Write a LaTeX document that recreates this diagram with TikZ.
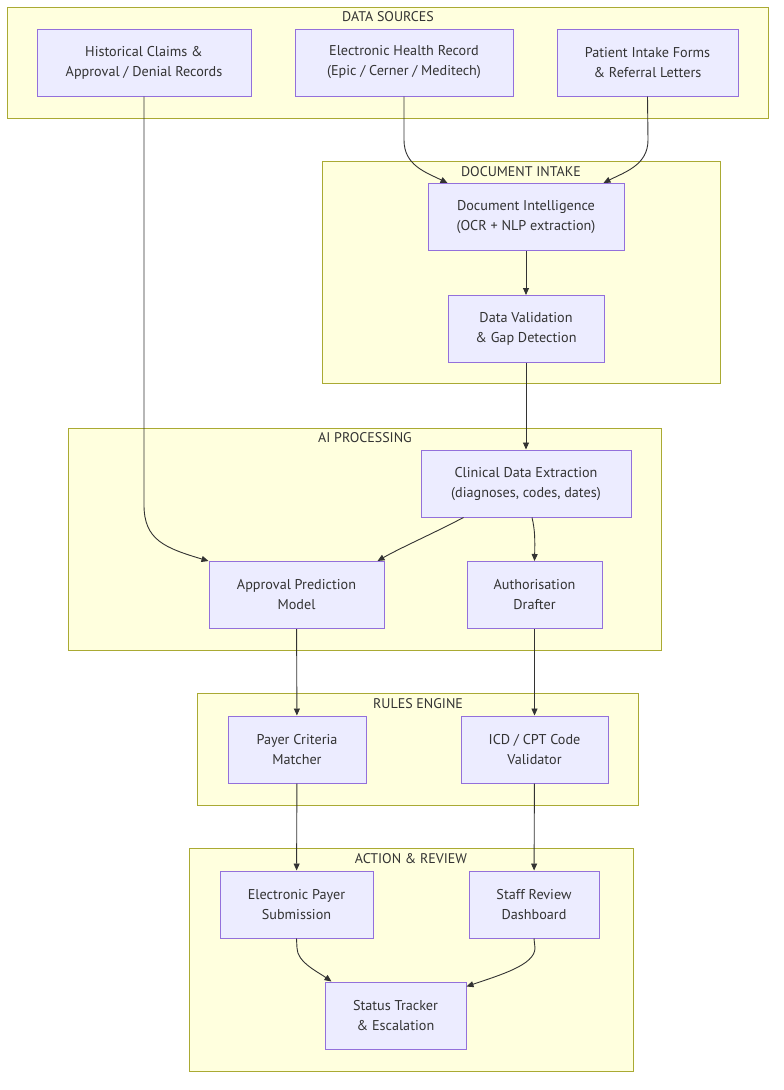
\documentclass[tikz,border=0pt]{standalone}
\usepackage{fontspec}
\setmainfont{PT Sans}
\usetikzlibrary{arrows.meta}
\definecolor{clfill}{HTML}{FFFFDE}
\definecolor{clline}{HTML}{AAAA33}
\definecolor{ndfill}{HTML}{ECECFF}
\definecolor{ndline}{HTML}{9370DB}
\definecolor{txt}{HTML}{333333}
\definecolor{edge}{HTML}{333333}
\tikzset{
  cluster/.style={draw=clline, fill=clfill, line width=1pt},
  ctitle/.style={anchor=north, inner sep=0pt, text=txt, font=\fontsize{14}{16}\selectfont},
  box/.style={draw=ndline, fill=ndfill, line width=1pt, minimum height=67pt, align=center, text=txt, inner sep=0pt, font=\fontsize{14.2}{20}\selectfont},
  conn/.style={draw=edge, line width=0.9pt, -{Triangle[length=7pt,width=6pt]}},
}
\begin{document}
\begin{tikzpicture}[x=1pt,y=-1pt]
\useasboundingbox (0,0) rectangle (784,1090);
% clusters
\draw[cluster] (7,7) rectangle (768,118);
\node[ctitle] (tds) at (388,11) {DATA SOURCES};
\draw[cluster] (322,161) rectangle (720,383);
\node[ctitle] (tdi) at (521,166) {DOCUMENT INTAKE};
\draw[cluster] (68,428) rectangle (661,650);
\node[ctitle] (tai) at (365,432) {AI PROCESSING};
\draw[cluster] (197,693) rectangle (638,805);
\node[ctitle] (tre) at (418,698) {RULES ENGINE};
\draw[cluster] (189,848) rectangle (633,1071);
\node[ctitle] (tar) at (411,853) {ACTION \& REVIEW};
% nodes
\node[box, minimum width=214pt] (hist) at (144,62.5) {Historical Claims \&\\Approval / Denial Records};
\node[box, minimum width=218pt] (ehr) at (404,62.5) {Electronic Health Record\\(Epic / Cerner / Meditech)};
\node[box, minimum width=181pt] (pat) at (647.5,62.5) {Patient Intake Forms\\\& Referral Letters};
\node[box, minimum width=196pt] (di) at (526,217) {Document Intelligence\\(OCR + NLP extraction)};
\node[box, minimum width=156pt] (dv) at (526,329) {Data Validation\\\& Gap Detection};
\node[box, minimum width=210pt] (cl) at (526,483.5) {Clinical Data Extraction\\(diagnoses, codes, dates)};
\node[box, minimum width=175pt] (app) at (296.5,595) {Approval Prediction\\Model};
\node[box, minimum width=135pt] (auth) at (534.5,595) {Authorisation\\Drafter};
\node[box, minimum width=138pt] (pay) at (297,749.5) {Payer Criteria\\Matcher};
\node[box, minimum width=147pt] (icd) at (534.5,749.5) {ICD / CPT Code\\Validator};
\node[box, minimum width=153pt] (eps) at (296.5,904.5) {Electronic Payer\\Submission};
\node[box, minimum width=130pt] (srd) at (534,904.5) {Staff Review\\Dashboard};
\node[box, minimum width=141pt] (st) at (395.5,1015.5) {Status Tracker\\\& Escalation};
% edges
\draw[conn] (hist.south) -- (144,505) .. controls (144,540) and (165,548) .. (app.north west);
\draw[conn] (ehr.south) -- (404,140) .. controls (404,165) and (425,172) .. ([xshift=20pt]di.north west);
\draw[conn] (pat.south) -- (648,140) .. controls (648,165) and (625,172) .. ([xshift=-21pt]di.north east);
\draw[conn] (di) -- (dv);
\draw[conn] (dv) -- (cl);
\draw[conn] ([xshift=43pt]cl.south west) .. controls (430,535) and (400,548) .. ([xshift=-7pt]app.north east);
\draw[conn] ([xshift=6pt]cl.south) .. controls (535,530) and (535,540) .. (auth.north);
\draw[conn] (app) -- (pay);
\draw[conn] (auth) -- (icd);
\draw[conn] (pay) -- (eps);
\draw[conn] (icd) -- (srd);
\draw[conn] (eps.south) -- (297,948) .. controls (297,962) and (318,972) .. ([xshift=7pt]st.north west);
\draw[conn] (srd.south) -- (535,948) .. controls (535,965) and (500,975) .. ([yshift=-5pt]st.north east);
\end{tikzpicture}
\end{document}
